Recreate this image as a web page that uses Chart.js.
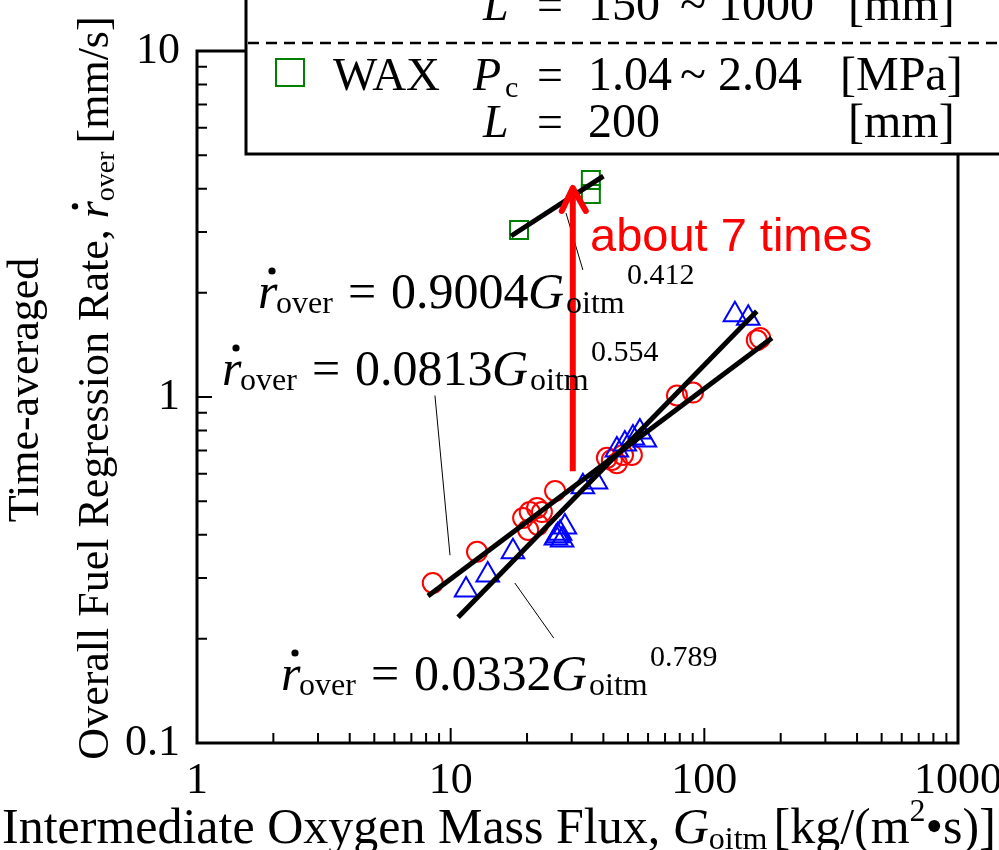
<!DOCTYPE html>
<html>
<head>
<meta charset="utf-8">
<script src="https://cdn.jsdelivr.net/npm/chart.js@4.4.1/dist/chart.umd.min.js"></script>
<style>
  html, body { margin: 0; padding: 0; background: #fff; }
</style>
</head>
<body>
<canvas id="regressionChart" width="999" height="850"></canvas>
<script>
var xTickLabels = ["1", "10", "100", "1000"];
var yTickLabels = ["0.1", "1", "10"];

// open circles (red)
var circleFlux = [8.5, 12.7, 19.3, 20.5, 21.9, 22.9, 20.2, 22.1, 25.8, 41.3, 43.2, 45.2, 47.8, 51.8, 78.0, 90.2, 161, 166];
var circleRate = [0.290, 0.357, 0.447, 0.465, 0.478, 0.465, 0.413, 0.427, 0.535, 0.667, 0.658, 0.644, 0.680, 0.680, 1.01, 1.03, 1.46, 1.48];

// open triangles (blue)
var triangleFlux = [11.5, 14.0, 17.6, 26.0, 27.0, 28.2, 27.5, 26.4, 33.2, 37.4, 45.2, 48.6, 52.3, 55.7, 58.3, 132, 149];
var triangleRate = [0.277, 0.306, 0.357, 0.391, 0.404, 0.421, 0.386, 0.397, 0.550, 0.568, 0.703, 0.732, 0.761, 0.792, 0.751, 1.73, 1.69];

// open squares (green, WAX)
var waxFlux = [18.6, 35.7, 35.7];
var waxRate = [3.04, 4.24, 3.86];

// fit lines, end points
var waxFitFlux = [17.3, 40.0];
var waxFitRate = [2.92, 4.35];
var circleFitFlux = [8.14, 184.6];
var circleFitRate = [0.266, 1.48];
var triangleFitFlux = [10.7, 161];
var triangleFitRate = [0.231, 1.77];

// red arrow and leader lines of the equations
var arrowFlux = [30.3, 30.3];
var arrowRate = [0.61, 3.9];
var arrowTipRate = 4.02;
var leaderWaxFlux = [28.5, 33.2];
var leaderWaxRate = [3.40, 2.33];
var leaderCircleFlux = [8.67, 9.94];
var leaderCircleRate = [1.01, 0.349];
var leaderTriangleFlux = [17.9, 25.5];
var leaderTriangleRate = [0.290, 0.201];

var SERIF = '"Liberation Serif", "Times New Roman", serif';
var SANS = '"Liberation Sans", Arial, sans-serif';

function toPoints(xs, ys) {
  return xs.map(function (x, i) {
    return { x: x, y: ys[i] };
  });
}

function lineSet(xs, ys, color, width) {
  return {
    data: toPoints(xs, ys),
    showLine: true,
    borderColor: color,
    borderWidth: width,
    pointRadius: 0,
    borderCapStyle: "butt",
  };
}

function markerSet(xs, ys, style, radius, color) {
  return {
    data: toPoints(xs, ys),
    showLine: false,
    pointStyle: style,
    pointRadius: radius,
    pointBorderWidth: 2,
    pointBorderColor: color,
    pointBackgroundColor: "rgba(0,0,0,0)",
  };
}

function isMajor(v) {
  var l = Math.log10(v);
  return Math.abs(l - Math.round(l)) < 1e-6;
}

function logTicks(first, last) {
  var out = [];
  for (var d = first; d < last * 0.999; d *= 10) {
    for (var k = 1; k < 10; k++) out.push({ value: parseFloat((k * d).toPrecision(3)) });
  }
  out.push({ value: last });
  return out;
}

// draws text pieces one after another, returns the width
function drawRun(ctx, x, y, pieces, measureOnly) {
  var cx = x;
  pieces.forEach(function (p) {
    ctx.font = p.font;
    var w = ctx.measureText(p.text).width;
    if (!measureOnly) {
      ctx.fillText(p.text, cx, y + (p.dy || 0));
      if (p.dot) {
        ctx.beginPath();
        ctx.arc(cx + p.dot[0], y + p.dot[1], p.dot[2], 0, Math.PI * 2);
        ctx.fill();
      }
    }
    cx += w + (p.gap || 0);
  });
  return cx - x;
}

function drawEquation(ctx, x, y, coef, exp) {
  ctx.fillStyle = "#000";
  ctx.font = "italic 50px " + SERIF;
  ctx.fillText("r", x, y);
  ctx.beginPath();
  ctx.arc(x + 14, y - 37, 3.6, 0, Math.PI * 2);
  ctx.fill();
  ctx.font = "32px " + SERIF;
  ctx.fillText("over", x + 18, y + 5);
  ctx.font = "50px " + SERIF;
  ctx.fillText("=", x + 90, y);
  ctx.fillText(coef, x + 133, y);
  ctx.font = "italic 50px " + SERIF;
  ctx.fillText("G", x + 270, y);
  ctx.font = "32px " + SERIF;
  ctx.fillText("oitm", x + 308, y + 5);
  ctx.font = "30px " + SERIF;
  ctx.fillText(exp, x + 369, y - 24);
}

var framePlugin = {
  id: "framePlugin",
  afterDatasetsDraw: function (chart) {
    var ctx = chart.ctx;
    var xs = chart.scales.x;
    var ys = chart.scales.y;
    // arrow head
    var tx = xs.getPixelForValue(arrowFlux[0]);
    var ty = ys.getPixelForValue(arrowTipRate);
    ctx.save();
    ctx.strokeStyle = "#ff0000";
    ctx.lineWidth = 6;
    ctx.lineCap = "round";
    ctx.lineJoin = "round";
    ctx.beginPath();
    ctx.moveTo(tx - 11, ty + 23);
    ctx.lineTo(tx, ty);
    ctx.lineTo(tx + 13, ty + 23);
    ctx.stroke();
    ctx.restore();
  },
  afterDraw: function (chart) {
    var ctx = chart.ctx;
    var a = chart.chartArea;
    var xs = chart.scales.x;
    var ys = chart.scales.y;
    ctx.save();
    ctx.strokeStyle = "#000";
    ctx.lineWidth = 3;
    ctx.strokeRect(a.left, a.top, a.right - a.left, a.bottom - a.top);

    // inward ticks
    ctx.lineWidth = 2;
    ctx.beginPath();
    xs.ticks.forEach(function (t) {
      var px = xs.getPixelForValue(t.value);
      var len = isMajor(t.value) ? 15 : 10;
      ctx.moveTo(px, a.bottom);
      ctx.lineTo(px, a.bottom - len);
    });
    ys.ticks.forEach(function (t) {
      var py = ys.getPixelForValue(t.value);
      var len = isMajor(t.value) ? 15 : 10;
      ctx.moveTo(a.left, py);
      ctx.lineTo(a.left + len, py);
    });
    ctx.stroke();

    // equations
    drawEquation(ctx, 258, 308, "0.9004", "0.412");
    drawEquation(ctx, 222, 385, "0.0813", "0.554");
    drawEquation(ctx, 281, 690, "0.0332", "0.789");

    ctx.fillStyle = "#ff0000";
    ctx.font = "47px " + SANS;
    ctx.fillText("about 7 times", 590, 251);

    // axis titles
    ctx.fillStyle = "#000";
    drawRun(ctx, 2, 843, [
      { text: "Intermediate Oxygen Mass Flux, ", font: "50px " + SERIF },
      { text: "G", font: "italic 50px " + SERIF },
      { text: "oitm", font: "32px " + SERIF, dy: 6, gap: 6 },
      { text: "[kg/(m", font: "50px " + SERIF },
      { text: "2", font: "32px " + SERIF, dy: -22 },
      { text: "\u2022s)]", font: "50px " + SERIF },
    ]);

    var titleLine2 = [
      { text: "Overall Fuel Regression Rate, ", font: "44px " + SERIF },
      { text: "r", font: "italic 44px " + SERIF, dot: [12, -33, 3.2] },
      { text: "over", font: "28px " + SERIF, dy: 6, gap: 8 },
      { text: "[mm/s]", font: "44px " + SERIF },
    ];
    ctx.save();
    ctx.translate(38, 390);
    ctx.rotate(-Math.PI / 2);
    ctx.font = "44px " + SERIF;
    ctx.textAlign = "center";
    ctx.fillText("Time-averaged", 0, 0);
    ctx.restore();
    ctx.save();
    ctx.translate(108, 388);
    ctx.rotate(-Math.PI / 2);
    var w2 = drawRun(ctx, 0, 0, titleLine2, true);
    drawRun(ctx, -w2 / 2, 0, titleLine2);
    ctx.restore();

    // legend box, partly outside the canvas
    ctx.fillStyle = "#fff";
    ctx.fillRect(246, -10, 800, 164);
    ctx.lineWidth = 3;
    ctx.strokeStyle = "#000";
    ctx.strokeRect(246, -10, 800, 164);
    ctx.lineWidth = 2.5;
    ctx.setLineDash([11, 7]);
    ctx.beginPath();
    ctx.moveTo(248, 43);
    ctx.lineTo(999, 43);
    ctx.stroke();
    ctx.setLineDash([]);
    ctx.strokeStyle = "#008000";
    ctx.lineWidth = 2;
    ctx.strokeRect(276, 59, 28, 27);

    ctx.fillStyle = "#000";
    var big = "46px " + SERIF;
    var num = "48px " + SERIF;
    var ital = "italic 46px " + SERIF;
    var rows = [
      { y: 20, name: "", sym: "L", sub: "", val: ["150", "~", "1000"], unit: "[mm]" },
      { y: 90, name: "WAX", sym: "P", sub: "c", val: ["1.04", "~", "2.04"], unit: "[MPa]" },
      { y: 137, name: "", sym: "L", sub: "", val: ["200"], unit: "[mm]" },
    ];
    rows.forEach(function (r) {
      ctx.font = "47px " + SERIF;
      if (r.name) ctx.fillText(r.name, 333, r.y);
      ctx.font = ital;
      ctx.fillText(r.sym, r.sym === "P" ? 473 : 483, r.y);
      if (r.sub) {
        ctx.font = "30px " + SERIF;
        ctx.fillText(r.sub, 505, r.y + 7);
      }
      ctx.font = big;
      ctx.fillText("=", 537, r.y);
      ctx.font = num;
      ctx.fillText(r.val[0], 588, r.y);
      if (r.val.length > 1) {
        ctx.fillText(r.val[1], 680, r.y);
        ctx.fillText(r.val[2], r.val[2].length > 3 ? 718 : 722, r.y);
      }
      ctx.font = "48px " + SERIF;
      ctx.fillText(r.unit, r.unit === "[MPa]" ? 840 : 848, r.y);
    });
    ctx.restore();
  },
};

var canvas = document.getElementById("regressionChart");
var ctx = canvas.getContext("2d");
var regressionChart = new Chart(ctx, {
  type: "scatter",
  data: {
    datasets: [
      lineSet(arrowFlux, arrowRate, "#ff0000", 6),
      lineSet(waxFitFlux, waxFitRate, "#000", 5),
      lineSet(circleFitFlux, circleFitRate, "#000", 5),
      lineSet(triangleFitFlux, triangleFitRate, "#000", 5),
      lineSet(leaderWaxFlux, leaderWaxRate, "#000", 1),
      lineSet(leaderCircleFlux, leaderCircleRate, "#000", 1),
      lineSet(leaderTriangleFlux, leaderTriangleRate, "#000", 1),
      markerSet(waxFlux, waxRate, "rect", 12.7, "#008000"),
      markerSet(triangleFlux, triangleRate, "triangle", 13, "#0000ff"),
      markerSet(circleFlux, circleRate, "circle", 10, "#ff0000"),
    ],
  },
  options: {
    responsive: false,
    animation: false,
    layout: { padding: { left: 0, top: 51, right: 41, bottom: 0 } },
    plugins: {
      legend: { display: false },
      tooltip: { enabled: false },
    },
    scales: {
      x: {
        type: "logarithmic",
        position: "bottom",
        min: 1,
        max: 1000,
        afterBuildTicks: function (scale) {
          scale.ticks = logTicks(1, 1000);
        },
        afterFit: function (scale) {
          scale.height = 107;
          scale.paddingLeft = 0;
          scale.paddingRight = 0;
        },
        grid: { display: false, drawTicks: false },
        border: { display: false },
        ticks: {
          autoSkip: false,
          maxRotation: 0,
          minRotation: 0,
          padding: 12,
          color: "#000",
          font: { family: SERIF, size: 44 },
          callback: function (v) {
            return isMajor(v) ? xTickLabels[Math.round(Math.log10(v))] : "";
          },
        },
      },
      y: {
        type: "logarithmic",
        position: "left",
        min: 0.1,
        max: 10,
        afterBuildTicks: function (scale) {
          scale.ticks = logTicks(0.1, 10);
        },
        afterFit: function (scale) {
          scale.width = 197;
          scale.paddingTop = 0;
          scale.paddingBottom = 0;
        },
        grid: { display: false, drawTicks: false },
        border: { display: false },
        ticks: {
          autoSkip: false,
          padding: 17,
          color: "#000",
          font: { family: SERIF, size: 44 },
          callback: function (v) {
            return isMajor(v) ? yTickLabels[Math.round(Math.log10(v)) + 1] : "";
          },
        },
      },
    },
  },
  plugins: [framePlugin],
});
</script>
</body>
</html>
